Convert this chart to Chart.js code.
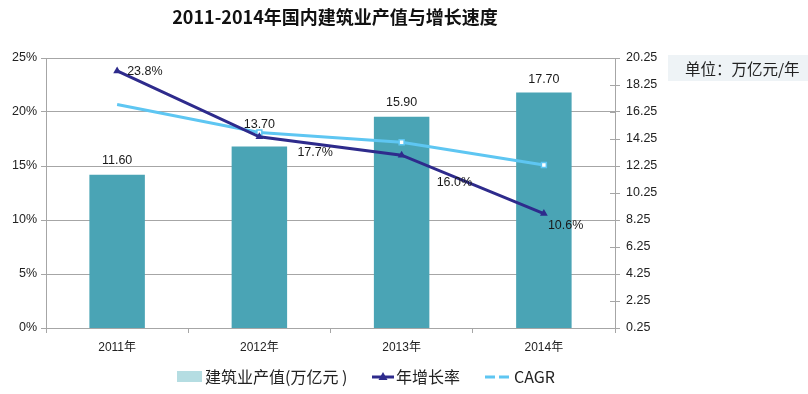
<!DOCTYPE html>
<html>
<head>
<meta charset="utf-8">
<script src="https://cdn.jsdelivr.net/npm/chart.js@4"></script>
<style>
  html, body { margin: 0; padding: 0; background: #fff; }
  #wrap { width: 808px; height: 394px; position: relative; }
</style>
</head>
<body>
<div id="wrap"><canvas id="chart" width="808" height="394"></canvas></div>
<script>
const years = ["2011年", "2012年", "2013年", "2014年"];
const outputValues = [11.60, 13.70, 15.90, 17.70];   // 建筑业产值 (万亿元)
const growthRates = [23.8, 17.7, 16.0, 10.6];        // 年增长率 (%)
const cagrValues = [20.7, 18.1, 17.2, 15.1];         // CAGR (%)
const leftTicks = [0, 5, 10, 15, 20, 25];
const rightTicks = [0.25, 2.25, 4.25, 6.25, 8.25, 10.25, 12.25, 14.25, 16.25, 18.25, 20.25];

const TITLE = "2011-2014年国内建筑业产值与增长速度";
const UNIT = "单位：万亿元/年";
const LEGEND = ["建筑业产值(万亿元 )", "年增长率", "CAGR"];

const BAR_COLOR = "#4aa4b5";
const DARK = "#2e2b8c";
const LIGHT = "#5ec6f2";
const GRID = "#a6a6a6";
const FONT = "'Liberation Sans', 'Noto Sans CJK SC', sans-serif";
const CJK = "'Noto Sans CJK SC', sans-serif";

// label nudges (px) – kept apart from the data
const barLabelLift = [14, 22, 14, 13];
const rateLabelOffset = [[10, 1], [38, 16], [35, 27], [4, 12]];

const extras = {
  id: "extras",
  afterDatasetsDraw(chart) {
    const ctx = chart.ctx;
    ctx.save();
    ctx.fillStyle = "#1a1a1a";
    ctx.font = "12.5px " + FONT;
    ctx.textBaseline = "middle";

    // bar value labels
    ctx.textAlign = "center";
    chart.getDatasetMeta(0).data.forEach((el, i) => {
      ctx.fillText(outputValues[i].toFixed(2), el.x, el.y - barLabelLift[i]);
    });

    // growth rate labels
    ctx.textAlign = "left";
    chart.getDatasetMeta(1).data.forEach((el, i) => {
      const o = rateLabelOffset[i];
      ctx.fillText(growthRates[i].toFixed(1) + "%", el.x + o[0], el.y + o[1]);
    });

    // inner half of the right axis tick marks
    const y1 = chart.scales.y1;
    ctx.strokeStyle = GRID;
    ctx.lineWidth = 1;
    y1.ticks.forEach(t => {
      const y = Math.round(y1.getPixelForValue(t.value)) + 0.5;
      ctx.beginPath();
      ctx.moveTo(y1.left - 5, y);
      ctx.lineTo(y1.left, y);
      ctx.stroke();
    });
    ctx.restore();
  },
  afterDraw(chart) {
    const ctx = chart.ctx;
    ctx.save();

    // title
    ctx.fillStyle = "#111";
    ctx.font = "bold 18px " + CJK;
    ctx.textAlign = "center";
    ctx.textBaseline = "middle";
    ctx.fillText(TITLE, 335, 17);

    // unit box
    ctx.fillStyle = "#eef3f6";
    ctx.fillRect(668, 55, 140, 26);
    ctx.fillStyle = "#222";
    ctx.font = "15.5px " + CJK;
    ctx.textAlign = "left";
    ctx.fillText(UNIT, 685, 69);

    // legend
    const ly = 377;
    ctx.font = "16px " + CJK;
    ctx.fillStyle = "#b5dde2";
    ctx.fillRect(177, ly - 6, 25, 11);
    ctx.fillStyle = "#222";
    ctx.fillText(LEGEND[0], 205, ly);

    ctx.strokeStyle = DARK;
    ctx.lineWidth = 3;
    ctx.beginPath();
    ctx.moveTo(372, ly);
    ctx.lineTo(394, ly);
    ctx.stroke();
    ctx.fillStyle = DARK;
    ctx.beginPath();
    ctx.moveTo(383, ly - 5);
    ctx.lineTo(387.5, ly + 3);
    ctx.lineTo(378.5, ly + 3);
    ctx.closePath();
    ctx.fill();
    ctx.fillStyle = "#222";
    ctx.fillText(LEGEND[1], 396, ly);

    ctx.strokeStyle = LIGHT;
    ctx.lineWidth = 3;
    ctx.setLineDash([10, 4]);
    ctx.beginPath();
    ctx.moveTo(485, ly);
    ctx.lineTo(512, ly);
    ctx.stroke();
    ctx.setLineDash([]);
    ctx.fillText(LEGEND[2], 514, ly);

    ctx.restore();
  }
};

new Chart(document.getElementById("chart"), {
  type: "bar",
  data: {
    labels: years,
    datasets: [
      {
        type: "bar",
        label: LEGEND[0],
        data: outputValues,
        yAxisID: "y1",
        backgroundColor: BAR_COLOR,
        categoryPercentage: 1,
        barPercentage: 0.39,
        order: 3
      },
      {
        type: "line",
        label: LEGEND[1],
        data: growthRates,
        yAxisID: "y",
        borderColor: DARK,
        backgroundColor: DARK,
        borderWidth: 3,
        pointStyle: "triangle",
        pointRadius: 4.5,
        pointBorderWidth: 0,
        tension: 0,
        order: 1
      },
      {
        type: "line",
        label: LEGEND[2],
        data: cagrValues,
        yAxisID: "y",
        borderColor: LIGHT,
        backgroundColor: "#ffffff",
        borderWidth: 3,
        pointStyle: "rect",
        pointRadius: [0, 3.5, 3.5, 3.5],
        pointBorderWidth: 1.5,
        pointBorderColor: LIGHT,
        tension: 0,
        order: 2
      }
    ]
  },
  options: {
    responsive: false,
    animation: false,
    layout: { padding: { top: 58, left: 0, right: 0, bottom: 0 } },
    plugins: {
      legend: { display: false },
      title: { display: false },
      tooltip: { enabled: false }
    },
    scales: {
      x: {
        offset: true,
        grid: {
          offset: true,
          drawOnChartArea: false,
          color: GRID,
          tickLength: 5
        },
        border: { color: GRID },
        ticks: {
          color: "#222",
          font: { family: FONT, size: 12 },
          padding: 7
        },
        afterFit(scale) { scale.height = 66; }
      },
      y: {
        position: "left",
        min: 0,
        max: 25,
        afterBuildTicks(scale) { scale.ticks = leftTicks.map(v => ({ value: v })); },
        grid: { color: GRID, tickLength: 5 },
        border: { color: GRID },
        ticks: {
          color: "#222",
          font: { family: FONT, size: 12.5 },
          padding: 4,
          callback: v => v + "%"
        },
        afterFit(scale) { scale.width = 46; }
      },
      y1: {
        position: "right",
        min: 0.25,
        max: 20.25,
        afterBuildTicks(scale) { scale.ticks = rightTicks.map(v => ({ value: v })); },
        grid: { drawOnChartArea: false, color: GRID, tickLength: 5 },
        border: { color: GRID },
        ticks: {
          color: "#222",
          font: { family: FONT, size: 12.5 },
          padding: 6,
          callback: v => v.toFixed(2)
        },
        afterFit(scale) { scale.width = 193; }
      }
    }
  },
  plugins: [extras]
});
</script>
</body>
</html>
